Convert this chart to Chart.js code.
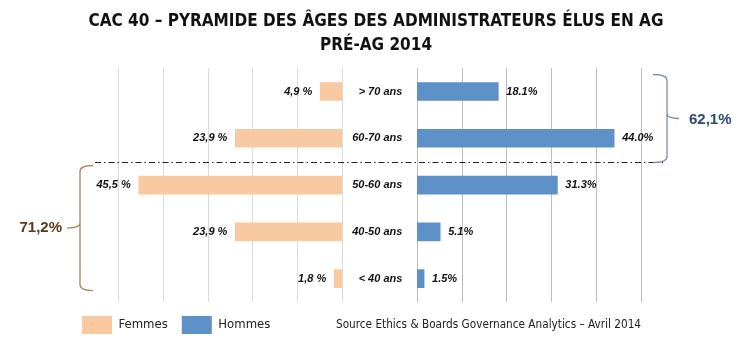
<!DOCTYPE html>
<html lang="fr">
  <head>
    <meta charset="UTF-8" />
    <title>Pyramide des âges</title>
    <style>
      body { margin: 0; background: #fff; }
      #wrap { width: 750px; height: 358px; }
    </style>
  </head>
  <body>
    <div id="wrap"><canvas id="pyramide"></canvas></div>
    <script src="https://cdn.jsdelivr.net/npm/chart.js"></script>
    <script>
      const categories = ['> 70 ans', '60-70 ans', '50-60 ans', '40-50 ans', '< 40 ans'];
      const femmes = [4.9, 23.9, 45.5, 23.9, 1.8];
      const hommes = [18.1, 44.0, 31.3, 5.1, 1.5];
      const femmesLabels = ['4,9 %', '23,9 %', '45,5 %', '23,9 %', '1,8 %'];
      const hommesLabels = ['18.1%', '44.0%', '31.3%', '5.1%', '1.5%'];
      const gridValues = [0, 10, 20, 30, 40, 50];
      const totalHommes = '62,1%';
      const totalFemmes = '71,2%';
      const source = 'Source Ethics & Boards Governance Analytics – Avril 2014';

      // gap (in axis units) between the two halves, where the age labels sit
      const GAP = 16.8;
      const narrow = '"DejaVu Sans Condensed", "Liberation Sans", sans-serif';

      const overlay = {
        id: 'overlay',
        afterDatasetsDraw(chart) {
          const ctx = chart.ctx;
          const x = chart.scales.x;
          const y = chart.scales.y;
          ctx.save();
          ctx.font = 'italic bold 11px "Liberation Sans", Arial, sans-serif';
          ctx.fillStyle = '#111';
          ctx.textBaseline = 'middle';

          // value labels
          chart.getDatasetMeta(0).data.forEach((bar, i) => {
            ctx.textAlign = 'right';
            ctx.fillText(femmesLabels[i], Math.min(bar.x, bar.base) - 8, bar.y);
          });
          chart.getDatasetMeta(1).data.forEach((bar, i) => {
            ctx.textAlign = 'left';
            ctx.fillText(hommesLabels[i], Math.max(bar.x, bar.base) + 8, bar.y);
          });

          // age labels in the middle
          ctx.textAlign = 'right';
          const labelX = x.getPixelForValue(GAP) - 15;
          categories.forEach((c, i) => ctx.fillText(c, labelX, y.getPixelForValue(i)));

          // dash-dot separator
          const sepY = Math.round((y.getPixelForValue(1) + y.getPixelForValue(2)) / 2) + 0.5;
          ctx.strokeStyle = '#222';
          ctx.lineWidth = 1;
          ctx.setLineDash([6, 3, 1.5, 3]);
          ctx.beginPath();
          ctx.moveTo(95, sepY);
          ctx.lineTo(663, sepY);
          ctx.stroke();
          ctx.setLineDash([]);

          // right brace (hommes)
          const rTop = y.getPixelForValue(0) - 17;
          const rMid = (rTop + sepY) / 2;
          ctx.strokeStyle = '#7d8ba0';
          ctx.lineWidth = 1.3;
          ctx.beginPath();
          ctx.moveTo(653, rTop);
          ctx.quadraticCurveTo(667, rTop, 667, rTop + 6);
          ctx.lineTo(667, rMid - 5);
          ctx.quadraticCurveTo(667, rMid, 679, rMid);
          ctx.moveTo(667, rMid - 5);
          ctx.quadraticCurveTo(667, rMid, 667, rMid + 5);
          ctx.lineTo(667, sepY - 6);
          ctx.quadraticCurveTo(667, sepY, 653, sepY);
          ctx.stroke();
          ctx.font = 'bold 15px "Liberation Sans", Arial, sans-serif';
          ctx.fillStyle = '#2c4a72';
          ctx.textAlign = 'left';
          ctx.fillText(totalHommes, 689, rMid + 1);

          // left brace (femmes)
          const lTop = sepY + 3;
          const lBot = y.getPixelForValue(4) + 12;
          const lMid = (lTop + lBot) / 2;
          ctx.strokeStyle = '#a8845c';
          ctx.beginPath();
          ctx.moveTo(93, lTop);
          ctx.quadraticCurveTo(80, lTop, 80, lTop + 6);
          ctx.lineTo(80, lMid - 5);
          ctx.quadraticCurveTo(80, lMid, 67, lMid);
          ctx.moveTo(80, lMid - 5);
          ctx.quadraticCurveTo(80, lMid, 80, lMid + 5);
          ctx.lineTo(80, lBot - 6);
          ctx.quadraticCurveTo(80, lBot, 93, lBot);
          ctx.stroke();
          ctx.fillStyle = '#5a3a1e';
          ctx.textAlign = 'right';
          ctx.fillText(totalFemmes, 62, lMid);

          // source line
          ctx.font = '11.7px ' + narrow;
          ctx.fillStyle = '#222';
          ctx.textAlign = 'left';
          const hb = chart.legend.legendHitBoxes[0];
          ctx.fillText(source, 336, hb.top + hb.height / 2);
          ctx.restore();
        },
      };

      const chart = new Chart(document.getElementById('pyramide'), {
        type: 'bar',
        data: {
          labels: categories,
          datasets: [
            {
              label: 'Femmes',
              data: femmes.map((v) => [-v, 0]),
              backgroundColor: '#F9C9A1',
              grouped: false,
              barThickness: 18,
            },
            {
              label: 'Hommes',
              data: hommes.map((v) => [GAP, GAP + v]),
              backgroundColor: '#5E91C8',
              grouped: false,
              barThickness: 18,
            },
          ],
        },
        options: {
          indexAxis: 'y',
          responsive: true,
          maintainAspectRatio: false,
          animation: false,
          layout: { padding: { left: 68, right: 66, top: 0, bottom: 14 } },
          scales: {
            x: {
              type: 'linear',
              min: -50,
              max: GAP + 50,
              ticks: { display: false },
              border: { display: false },
              grid: {
                drawTicks: false,
                color: (c) => (c.tick && c.tick.value >= GAP ? '#bdbdbd' : '#dadada'),
              },
              afterBuildTicks: (scale) => {
                scale.ticks = gridValues
                  .map((v) => ({ value: -v }))
                  .reverse()
                  .concat(gridValues.map((v) => ({ value: GAP + v })));
              },
            },
            y: {
              position: 'left',
              ticks: { display: false },
              grid: { display: false },
              border: { display: false },
              afterFit: (scale) => {
                scale.width = 50.6;
              },
            },
            yRight: {
              type: 'linear',
              position: 'right',
              ticks: { display: false },
              grid: { display: false },
              border: { display: false },
              afterFit: (scale) => {
                scale.width = 43;
              },
            },
          },
          plugins: {
            title: {
              display: true,
              text: ['CAC 40 – PYRAMIDE DES ÂGES DES ADMINISTRATEURS ÉLUS EN AG', 'PRÉ-AG 2014'],
              color: '#111',
              font: { family: narrow, size: 17, weight: 'bold', lineHeight: 1.4 },
              padding: { top: 9.5, bottom: 11 },
            },
            legend: {
              position: 'bottom',
              align: 'start',
              labels: {
                boxWidth: 30,
                boxHeight: 18,
                padding: 14,
                color: '#222',
                font: { family: narrow, size: 13 },
              },
            },
            tooltip: { enabled: false },
          },
        },
        plugins: [overlay],
      });
    </script>
  </body>
</html>
